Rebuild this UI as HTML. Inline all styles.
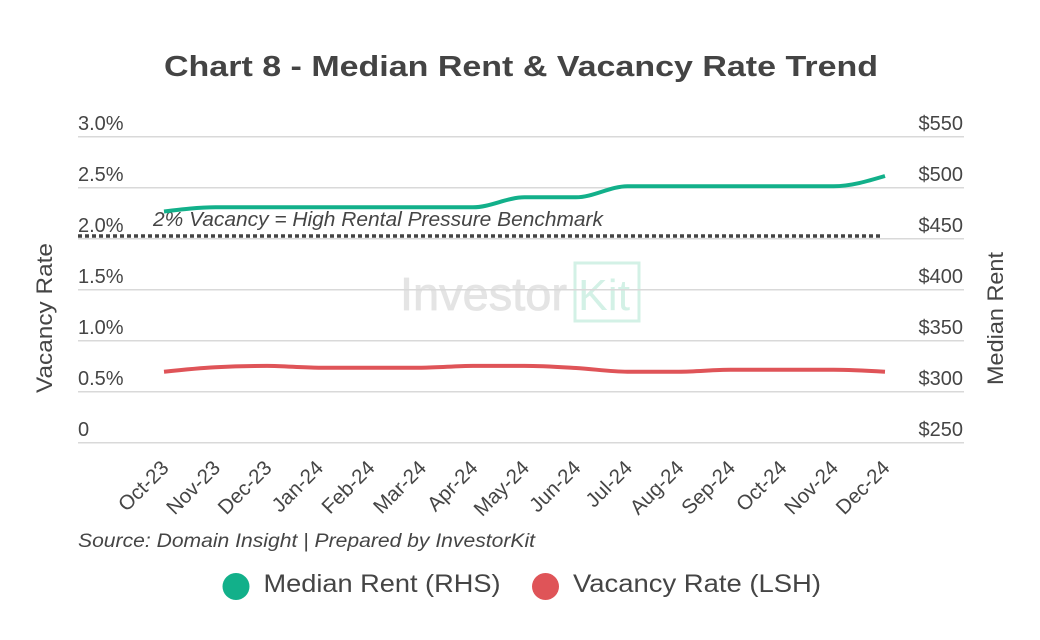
<!DOCTYPE html>
<html>
<head>
<meta charset="utf-8">
<style>
  html, body { margin:0; padding:0; background:#ffffff; }
  svg { display:block; }
  text { font-family: "Liberation Sans", sans-serif; fill:#454545; }
</style>
</head>
<body>
<svg width="1040" height="640" viewBox="0 0 1040 640" xmlns="http://www.w3.org/2000/svg">
  <rect x="0" y="0" width="1040" height="640" fill="#ffffff"/>

  <!-- Title -->
  <text x="521" y="76" text-anchor="middle" font-size="29" font-weight="bold" textLength="714" lengthAdjust="spacingAndGlyphs" style="fill:#444">Chart 8 - Median Rent &amp; Vacancy Rate Trend</text>

  <!-- Watermark -->
  <text x="400" y="310" font-size="46" textLength="167" lengthAdjust="spacingAndGlyphs" style="fill:#e4e4e4;stroke:#e4e4e4;stroke-width:0.8">Investor</text>
  <rect x="575" y="263" width="64" height="58" fill="none" stroke="#d3f1e6" stroke-width="3"/>
  <text x="578" y="310" font-size="44" textLength="52" lengthAdjust="spacingAndGlyphs" style="fill:#d3f1e6">Kit</text>

  <!-- Gridlines -->
  <g stroke="#d9d9d9" stroke-width="1.5">
    <line x1="78" y1="136.7" x2="964" y2="136.7"/>
    <line x1="78" y1="187.7" x2="964" y2="187.7"/>
    <line x1="78" y1="238.7" x2="964" y2="238.7"/>
    <line x1="78" y1="289.7" x2="964" y2="289.7"/>
    <line x1="78" y1="340.7" x2="964" y2="340.7"/>
    <line x1="78" y1="391.7" x2="964" y2="391.7"/>
    <line x1="78" y1="442.7" x2="964" y2="442.7"/>
  </g>

  <!-- Left tick labels -->
  <g font-size="20">
    <text x="78" y="130">3.0%</text>
    <text x="78" y="181">2.5%</text>
    <text x="78" y="232">2.0%</text>
    <text x="78" y="283">1.5%</text>
    <text x="78" y="334">1.0%</text>
    <text x="78" y="385">0.5%</text>
    <text x="78" y="436">0</text>
  </g>

  <!-- Right tick labels -->
  <g font-size="20" text-anchor="end">
    <text x="963" y="130">$550</text>
    <text x="963" y="181">$500</text>
    <text x="963" y="232">$450</text>
    <text x="963" y="283">$400</text>
    <text x="963" y="334">$350</text>
    <text x="963" y="385">$300</text>
    <text x="963" y="436">$250</text>
  </g>

  <!-- Axis titles -->
  <text transform="translate(52,318) rotate(-90)" text-anchor="middle" font-size="22" textLength="150" lengthAdjust="spacingAndGlyphs">Vacancy Rate</text>
  <text transform="translate(1003,318.5) rotate(-90)" text-anchor="middle" font-size="22" textLength="133" lengthAdjust="spacingAndGlyphs">Median Rent</text>

  <!-- Benchmark dotted line -->
  <line x1="78" y1="236" x2="883" y2="236" stroke="#444" stroke-width="3.6" stroke-dasharray="4 3"/>
  <text x="153" y="226" font-size="20" font-style="italic" textLength="450" lengthAdjust="spacingAndGlyphs">2% Vacancy = High Rental Pressure Benchmark</text>

  <!-- Median Rent (green) -->
  <path fill="none" stroke="#12b08a" stroke-width="4" stroke-linejoin="round" stroke-linecap="butt"
    d="M164,211.5 C181.17,209.4 198.33,207.3 215.5,207.3
       L473,207.3
       C490.17,207.3 507.33,197.3 524.5,197.3
       L576,197.3
       C593.17,197.3 610.33,186.2 627.5,186.2
       L833.5,186.2
       C850.67,186.2 867.83,181.1 885,176"/>

  <!-- Vacancy Rate (red) -->
  <path fill="none" stroke="#df5458" stroke-width="4" stroke-linejoin="round" stroke-linecap="butt"
    d="M164,371.7 C181.17,369.88 198.33,368.07 215.5,367.2
       C232.67,366.34 249.83,365.9 267,365.9
       C284.17,365.9 301.33,367.7 318.5,367.7
       L421.5,367.7
       C438.67,367.7 455.83,365.9 473,365.9
       L524.5,365.9
       C541.67,365.9 558.83,367.03 576,368
       C593.17,368.97 610.33,371.7 627.5,371.7
       L679,371.7
       C696.17,371.7 713.33,369.8 730.5,369.8
       L833.5,369.8
       C850.67,369.8 867.83,370.75 885,371.7"/>

  <!-- X labels -->
  <g font-size="20.5" text-anchor="end">
    <text transform="translate(170,469) rotate(-45)">Oct-23</text>
    <text transform="translate(221.5,469) rotate(-45)">Nov-23</text>
    <text transform="translate(273,469) rotate(-45)">Dec-23</text>
    <text transform="translate(324.5,469) rotate(-45)">Jan-24</text>
    <text transform="translate(376,469) rotate(-45)">Feb-24</text>
    <text transform="translate(427.5,469) rotate(-45)">Mar-24</text>
    <text transform="translate(479,469) rotate(-45)">Apr-24</text>
    <text transform="translate(530.5,469) rotate(-45)">May-24</text>
    <text transform="translate(582,469) rotate(-45)">Jun-24</text>
    <text transform="translate(633.5,469) rotate(-45)">Jul-24</text>
    <text transform="translate(685,469) rotate(-45)">Aug-24</text>
    <text transform="translate(736.5,469) rotate(-45)">Sep-24</text>
    <text transform="translate(788,469) rotate(-45)">Oct-24</text>
    <text transform="translate(839.5,469) rotate(-45)">Nov-24</text>
    <text transform="translate(891,469) rotate(-45)">Dec-24</text>
  </g>

  <!-- Source -->
  <text x="78" y="547" font-size="19" font-style="italic" textLength="457" lengthAdjust="spacingAndGlyphs">Source: Domain Insight | Prepared by InvestorKit</text>

  <!-- Legend -->
  <circle cx="236" cy="586.5" r="13.5" fill="#12b08a"/>
  <text x="263.5" y="592" font-size="25" textLength="237" lengthAdjust="spacingAndGlyphs">Median Rent (RHS)</text>
  <circle cx="545.5" cy="586.5" r="13.5" fill="#df5458"/>
  <text x="573" y="592" font-size="25" textLength="248" lengthAdjust="spacingAndGlyphs">Vacancy Rate (LSH)</text>
</svg>
</body>
</html>
